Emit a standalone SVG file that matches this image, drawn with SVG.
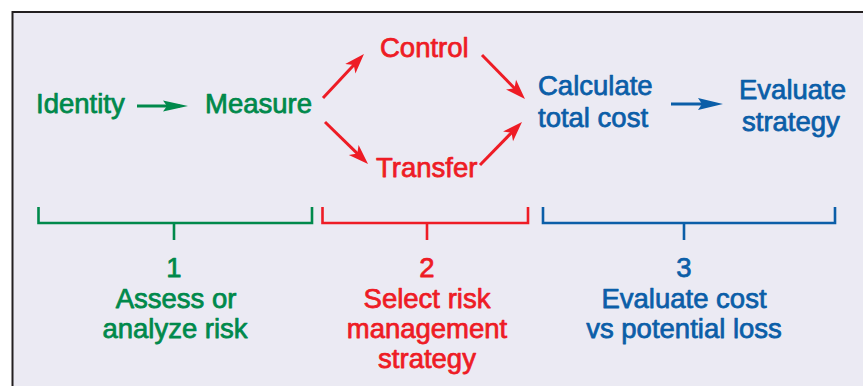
<svg xmlns="http://www.w3.org/2000/svg" width="863" height="386" viewBox="0 0 863 386">
  <style>
    text { font-family: "Liberation Sans", Arial, Helvetica, sans-serif; font-size: 27.5px; stroke-width: 0.75; stroke-linejoin: round; }
    .g { fill: #00894B; stroke: #00894B; }
    .r { fill: #EE1C25; stroke: #EE1C25; }
    .b { fill: #0B5EA8; stroke: #0B5EA8; }
    .ln { fill: none; stroke-width: 3; }
    .br { fill: none; stroke-width: 2.6; stroke-linejoin: miter; }
    .mid { text-anchor: middle; }
  </style>
  <defs>
    <marker id="ahG" markerUnits="userSpaceOnUse" markerWidth="30" markerHeight="16" viewBox="0 -8 30 16" refX="17" refY="0" orient="auto">
      <path d="M0,-5.5 L25,0 L0,5.5 L4,0 Z" fill="#00894B"/>
    </marker>
    <marker id="ahB" markerUnits="userSpaceOnUse" markerWidth="30" markerHeight="16" viewBox="0 -8 30 16" refX="17" refY="0" orient="auto">
      <path d="M0,-6 L25,0 L0,6 L4,0 Z" fill="#0B5EA8"/>
    </marker>
    <marker id="ahR" markerUnits="userSpaceOnUse" markerWidth="24" markerHeight="16" viewBox="0 -8 24 16" refX="12" refY="0" orient="auto">
      <path d="M0,-7 L20,0 L0,7 L5,0 Z" fill="#EE1C25"/>
    </marker>
  </defs>

  <!-- background panel -->
  <rect x="0" y="0" width="863" height="386" fill="#FFFFFF"/>
  <rect x="12.5" y="12" width="900" height="420" fill="#EBEAF3" stroke="#231F20" stroke-width="2"/>

  <!-- connectors -->
  <g id="connectors">
    <line class="ln" stroke="#00894B" x1="137" y1="106" x2="180" y2="106" marker-end="url(#ahG)"/>
    <line class="ln" stroke="#EE1C25" x1="323" y1="98" x2="358.5" y2="59.9" marker-end="url(#ahR)"/>
    <line class="ln" stroke="#EE1C25" x1="325" y1="122" x2="362.3" y2="158.4" marker-end="url(#ahR)"/>
    <line class="ln" stroke="#EE1C25" x1="482" y1="55" x2="519.4" y2="93.3" marker-end="url(#ahR)"/>
    <line class="ln" stroke="#EE1C25" x1="480" y1="165" x2="516.4" y2="127.7" marker-end="url(#ahR)"/>
    <line class="ln" stroke="#0B5EA8" x1="671" y1="104" x2="715" y2="104" marker-end="url(#ahB)"/>
  </g>

  <!-- process steps -->
  <g id="identity"><text class="g" x="36" y="113">Identity</text></g>
  <g id="measure"><text class="g" x="205" y="113">Measure</text></g>
  <g id="control"><text class="r" x="380" y="57">Control</text></g>
  <g id="transfer"><text class="r" x="376" y="177">Transfer</text></g>
  <g id="calculate"><text class="b" x="538" y="95">Calculate</text><text class="b" x="538" y="127">total cost</text></g>
  <g id="evaluate"><text class="b" x="739" y="99">Evaluate</text><text class="b" x="742" y="131">strategy</text></g>

  <!-- phase brackets -->
  <g id="phase1">
    <path class="br" stroke="#00894B" d="M38.5,207 V223 H312 V207 M174,223 V240"/>
    <text class="g mid" x="174" y="277">1</text>
    <text class="g mid" x="176" y="308">Assess or</text>
    <text class="g mid" x="175" y="338">analyze risk</text>
  </g>
  <g id="phase2">
    <path class="br" stroke="#EE1C25" d="M322.5,207 V223 H528 V207 M427,223 V240"/>
    <text class="r mid" x="427" y="277">2</text>
    <text class="r mid" x="427" y="308">Select risk</text>
    <text class="r mid" x="427" y="338">management</text>
    <text class="r mid" x="427" y="368">strategy</text>
  </g>
  <g id="phase3">
    <path class="br" stroke="#0B5EA8" d="M543,207 V223 H835 V207 M684,223 V240"/>
    <text class="b mid" x="684" y="277">3</text>
    <text class="b mid" x="684" y="308">Evaluate cost</text>
    <text class="b mid" x="684" y="338">vs potential loss</text>
  </g>
</svg>
